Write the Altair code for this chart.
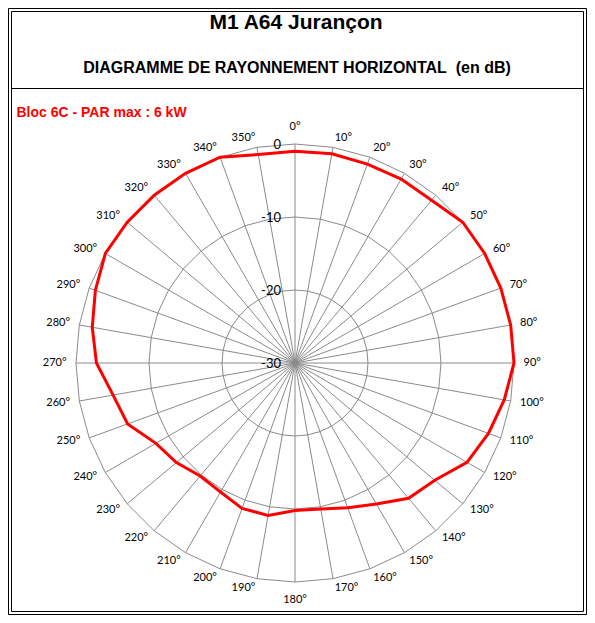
import altair as alt
import pandas as pd

# ---------------- data ----------------
angles = list(range(0, 360, 10))
gain_db = [
    -1.0, -0.9, -1.0, -0.9, -0.9, 0.0, 0.0, 0.0, 0.0, 0.0,      # 0 .. 90
    -0.9, -1.8, -2.8, -5.0, -5.8, -7.7, -8.9, -9.7, -9.8, -8.8,  # 100 .. 190
    -8.8, -9.6, -9.8, -8.8, -8.0, -5.6, -4.7, -2.8, -1.8, -0.9,  # 200 .. 290
    0.0, 0.0, 0.0, 0.0, 0.0, -1.0,                               # 300 .. 350
]
angle_labels = [f"{a}°" for a in angles]
ring_levels = [0, -10, -20]
scale_levels = [0, -10, -20, -30]
scale_labels = ["0", "-10", "-20", "-30"]

title_main = "M1 A64 Jurançon"
title_sub = "DIAGRAMME DE RAYONNEMENT HORIZONTAL\u00a0 (en dB)"
series_name = "Bloc 6C - PAR max : 6 kW"

# ---------------- layout ----------------
W, H = 579, 607
CX, CY = 287, 355          # polar centre inside the canvas (px)
PX = 219 / 30              # pixels per dB
FLOOR = -30
LABEL_R = 228.5 / PX       # anchor radius of angle labels in dB units
GRID = "#8a8a8a"
RED = "#ff0000"

xs = alt.Scale(domain=[-CX / PX, (W - CX) / PX], nice=False, zero=False)
ys = alt.Scale(domain=[-(H - CY) / PX, CY / PX], nice=False, zero=False)

pattern = pd.DataFrame({"angle": angles, "gain": gain_db})
rings = pd.DataFrame(
    [(lv, a) for lv in ring_levels for a in angles], columns=["level", "angle"]
)
spokes = pd.DataFrame({"angle": angles, "label": angle_labels})
scale_df = pd.DataFrame({"level": scale_levels, "label": scale_labels})

X = alt.X("px:Q", scale=xs, axis=None)
Y = alt.Y("py:Q", scale=ys, axis=None)

ring_layer = (
    alt.Chart(rings)
    .transform_calculate(
        px=f"(datum.level - ({FLOOR})) * sin(datum.angle * PI / 180)",
        py=f"(datum.level - ({FLOOR})) * cos(datum.angle * PI / 180)",
    )
    .mark_line(interpolate="linear-closed", color=GRID, strokeWidth=1)
    .encode(x=X, y=Y, detail="level:N", order="angle:Q")
)

spoke_layer = (
    alt.Chart(spokes)
    .transform_calculate(
        px="0",
        py="0",
        qx=f"{-FLOOR} * sin(datum.angle * PI / 180)",
        qy=f"{-FLOOR} * cos(datum.angle * PI / 180)",
    )
    .mark_rule(color=GRID, strokeWidth=1)
    .encode(x=X, y=Y, x2="qx:Q", y2="qy:Q")
)

label_base = alt.Chart(spokes).transform_calculate(
    px=f"{LABEL_R} * sin(datum.angle * PI / 180)",
    py=f"{LABEL_R} * cos(datum.angle * PI / 180)",
)
label_style = dict(font="Lato", fontSize=11, color="black", baseline="middle")
labels_right = (
    label_base.transform_filter("datum.angle > 0 && datum.angle < 180")
    .mark_text(align="left", **label_style)
    .encode(x=X, y=Y, text="label:N")
)
labels_left = (
    label_base.transform_filter("datum.angle > 180")
    .mark_text(align="right", **label_style)
    .encode(x=X, y=Y, text="label:N")
)
labels_top = (
    label_base.transform_filter("datum.angle == 0")
    .mark_text(align="center", dy=-8, **label_style)
    .encode(x=X, y=Y, text="label:N")
)
labels_bottom = (
    label_base.transform_filter("datum.angle == 180")
    .mark_text(align="center", dy=8, **label_style)
    .encode(x=X, y=Y, text="label:N")
)

scale_text = (
    alt.Chart(scale_df)
    .transform_calculate(px="0", py=f"datum.level - ({FLOOR})")
    .mark_text(font="Lato", fontSize=13, color="black", align="right",
               baseline="alphabetic", dx=-14, dy=4.5)
    .encode(x=X, y=Y, text="label:N")
)

pattern_layer = (
    alt.Chart(pattern)
    .transform_calculate(
        px=f"(datum.gain - ({FLOOR})) * sin(datum.angle * PI / 180)",
        py=f"(datum.gain - ({FLOOR})) * cos(datum.angle * PI / 180)",
    )
    .mark_line(interpolate="linear-closed", color=RED, strokeWidth=3, strokeJoin="miter")
    .encode(x=X, y=Y, order="angle:Q")
)

one = pd.DataFrame({"t": [title_main], "s": [title_sub], "n": [series_name]})

frame_outer = alt.Chart(one).mark_rect(filled=False, stroke="black", strokeWidth=1).encode(
    x=alt.value(0.5), x2=alt.value(W - 0.5), y=alt.value(0.5), y2=alt.value(H - 0.5)
)
frame_inner = alt.Chart(one).mark_rect(filled=False, stroke="black", strokeWidth=1).encode(
    x=alt.value(3.5), x2=alt.value(W - 3.5), y=alt.value(3.5), y2=alt.value(H - 3.5)
)
separator = alt.Chart(one).mark_rule(color="black", strokeWidth=1).encode(
    x=alt.value(3.5), x2=alt.value(W - 3.5), y=alt.value(80.5)
)
t_main = alt.Chart(one).mark_text(
    font="Liberation Sans", fontSize=21, fontWeight="bold", color="black",
    align="center", baseline="alphabetic"
).encode(x=alt.value(288), y=alt.value(21), text="t:N")
t_sub = alt.Chart(one).mark_text(
    font="Liberation Sans", fontSize=16, fontWeight="bold", color="black",
    align="center", baseline="alphabetic"
).encode(x=alt.value(289), y=alt.value(65), text="s:N")
t_series = alt.Chart(one).mark_text(
    font="Liberation Sans", fontSize=14, fontWeight="bold", color=RED,
    align="left", baseline="alphabetic"
).encode(x=alt.value(8.5), y=alt.value(109), text="n:N")

chart = (
    alt.layer(
        frame_outer, frame_inner, separator, t_main, t_sub, t_series,
        ring_layer, spoke_layer, pattern_layer,
        labels_right, labels_left, labels_top, labels_bottom, scale_text,
    )
    .properties(width=W, height=H, autosize=alt.AutoSizeParams(type="none"),
                padding=0, background="white")
    .configure_view(stroke=None)
)

chart.save("out.html", embed_options={"renderer": "svg", "actions": False})
